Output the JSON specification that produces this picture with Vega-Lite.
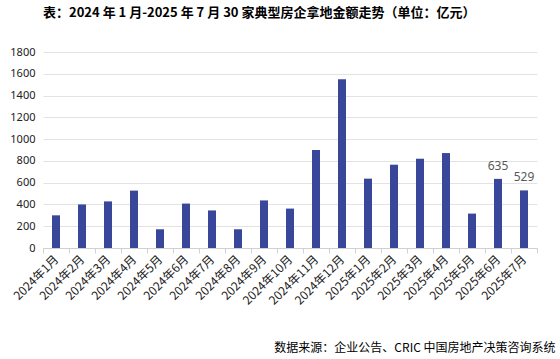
{
  "$schema": "https://vega.github.io/schema/vega-lite/v6.json",
  "width": 494,
  "height": 196,
  "autosize": {"type": "none"},
  "padding": {"left": 43, "top": 52, "right": 23, "bottom": 111},
  "background": "white",
  "title": {
    "text": "表：2024 年 1 月-2025 年 7 月 30 家典型房企拿地金额走势（单位：亿元）",
    "anchor": "start",
    "frame": "group",
    "font": "Noto Sans CJK SC",
    "fontSize": 13,
    "fontWeight": "bold",
    "color": "#000000",
    "offset": 26
  },
  "data": {
    "values": [
      {"month": "2024年1月", "value": 300},
      {"month": "2024年2月", "value": 400},
      {"month": "2024年3月", "value": 428},
      {"month": "2024年4月", "value": 527},
      {"month": "2024年5月", "value": 172},
      {"month": "2024年6月", "value": 408},
      {"month": "2024年7月", "value": 345},
      {"month": "2024年8月", "value": 172},
      {"month": "2024年9月", "value": 437},
      {"month": "2024年10月", "value": 362},
      {"month": "2024年11月", "value": 900},
      {"month": "2024年12月", "value": 1550},
      {"month": "2025年1月", "value": 637},
      {"month": "2025年2月", "value": 765},
      {"month": "2025年3月", "value": 820},
      {"month": "2025年4月", "value": 872},
      {"month": "2025年5月", "value": 316},
      {"month": "2025年6月", "value": 635},
      {"month": "2025年7月", "value": 529}
    ]
  },
  "encoding": {
    "x": {
      "field": "month",
      "type": "ordinal",
      "sort": null,
      "scale": {"paddingInner": 0, "paddingOuter": 0},
      "axis": {
        "title": "数据来源：企业公告、CRIC 中国房地产决策咨询系统",
        "titleFont": "Noto Sans CJK SC",
        "titleFontSize": 12,
        "titleFontWeight": "normal",
        "titleColor": "#000000",
        "titleAnchor": "end",
        "titleAlign": "right",
        "titleX": 512,
        "titlePadding": 36,
        "labelAngle": -45,
        "labelAlign": "right",
        "labelBaseline": "middle",
        "labelFont": "Noto Sans CJK SC",
        "labelFontSize": 12,
        "labelColor": "#222222",
        "labelPadding": 4,
        "tickBand": "extent",
        "tickColor": "#d0d0d0",
        "tickSize": 5,
        "domainColor": "#d0d0d0",
        "grid": false
      }
    },
    "y": {
      "field": "value",
      "type": "quantitative",
      "scale": {"domain": [0, 1800]},
      "axis": {
        "title": null,
        "format": "d",
        "values": [0, 200, 400, 600, 800, 1000, 1200, 1400, 1600, 1800],
        "labelFont": "Noto Sans",
        "labelFontSize": 11,
        "labelColor": "#222222",
        "labelPadding": 8,
        "domain": false,
        "ticks": false,
        "gridColor": "#e3e3e3",
        "gridWidth": 1
      }
    }
  },
  "layer": [
    {
      "mark": {"type": "bar", "color": "#38479a", "size": 8}
    },
    {
      "transform": [{"filter": "datum.month == '2025年6月' || datum.month == '2025年7月'"}],
      "mark": {
        "type": "text",
        "baseline": "bottom",
        "dy": -6,
        "font": "Noto Sans",
        "fontSize": 12,
        "color": "#595959"
      },
      "encoding": {"text": {"field": "value", "type": "quantitative"}}
    }
  ],
  "config": {"view": {"stroke": null}}
}
